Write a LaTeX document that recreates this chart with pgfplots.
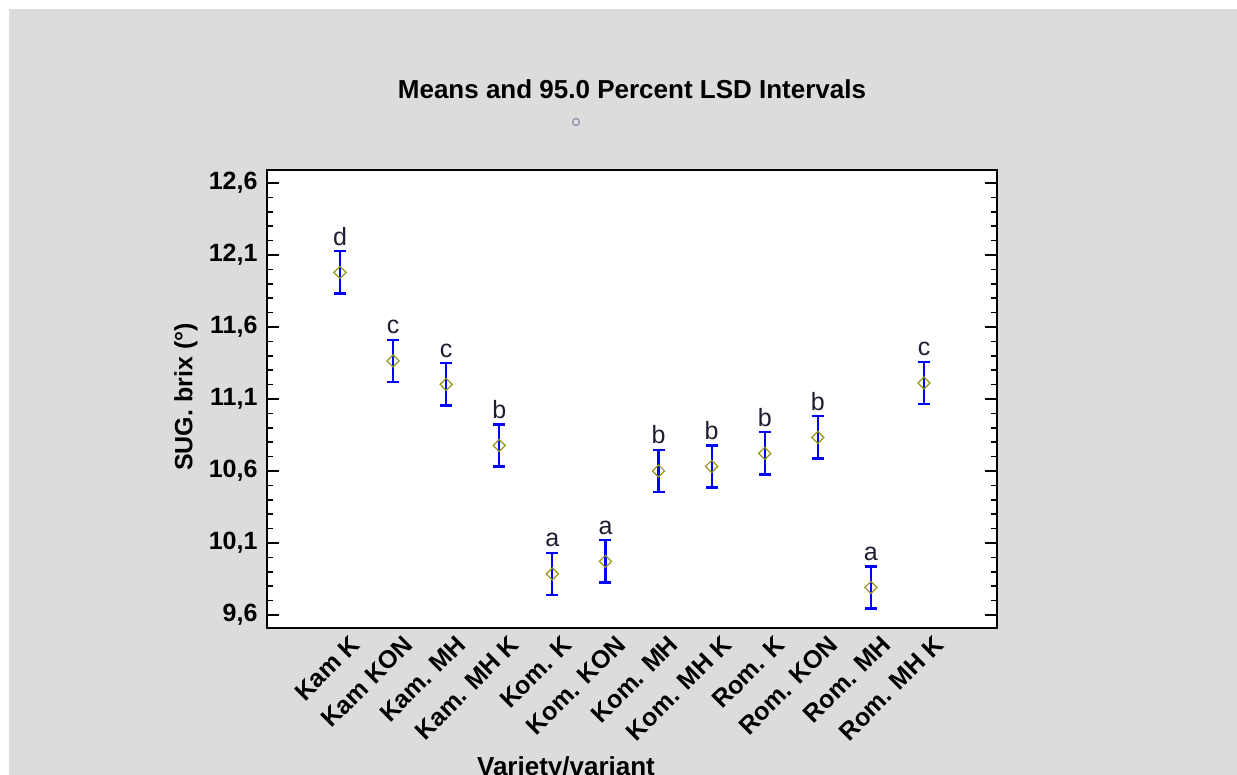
\documentclass[border=0pt]{standalone}
\usepackage{fontspec}
\setmainfont{Liberation Sans}
\usepackage{pgfplots}
\pgfplotsset{compat=1.18}
\usepackage{pgfplotstable}
\definecolor{bg}{RGB}{220,220,220}
\definecolor{barblue}{RGB}{0,0,255}
\definecolor{olivem}{RGB}{150,150,20}
\definecolor{lettercol}{RGB}{30,30,50}
\definecolor{circcol}{RGB}{140,140,170}
\pgfplotstableread{
x mean err hi let
0 11.979 0.146 12.125 d
1 11.364 0.146 11.510 c
2 11.201 0.146 11.347 c
3 10.777 0.146 10.923 b
4 9.885 0.146 10.031 a
5 9.972 0.146 10.118 a
6 10.600 0.146 10.746 b
7 10.631 0.146 10.777 b
8 10.722 0.146 10.868 b
9 10.833 0.146 10.979 b
10 9.791 0.146 9.937 a
11 11.211 0.146 11.357 c
}\data
\begin{document}
\begin{tikzpicture}[x=1pt,y=1pt]
\path[use as bounding box] (0,0) rectangle (1237,775);
\fill[bg] (9,0) rectangle (1237,766);
\node[font=\bfseries\fontsize{26}{30}\selectfont, anchor=base] at (632,676) {Means and 95.0 Percent LSD Intervals};
\draw[circcol, line width=1.2pt] (576,653) circle (3.5);
\node[rotate=90, font=\bfseries\fontsize{25}{29}\selectfont] at (186,378) {SUG. brix (°)};
\node[font=\bfseries\fontsize{26}{30}\selectfont, anchor=base] at (566,-1) {Variety/variant};
\begin{axis}[
  at={(267pt,147pt)}, anchor=south west,
  scale only axis, width=730pt, height=458pt,
  xmin=-1.375, xmax=12.375, ymin=9.5097, ymax=12.690,
  axis background/.style={fill=white},
  axis line style={line width=1.6pt, black},
  xtick={0,1,2,3,4,5,6,7,8,9,10,11},
  xticklabels={Kam K, Kam KON, Kam. MH, Kam. MH K, Kom. K, Kom. KON, Kom. MH, Kom. MH K, Rom. K, Rom. KON, Rom. MH, Rom. MH K},
  x tick style={draw=none},
  xticklabel style={xshift=9pt, yshift=-3pt, rotate=45, anchor=north east, font=\bfseries\fontsize{25}{29}\selectfont, inner sep=2pt},
  ytick={9.6,10.1,10.6,11.1,11.6,12.1,12.6},
  minor y tick num=4,
  tick align=inside, ytick pos=both,
  major tick length=12pt, minor tick length=6pt,
  y tick style={line width=1.6pt, black},
  yticklabel style={font=\bfseries\fontsize{25}{29}\selectfont, xshift=-6pt},
  /pgf/number format/assume math mode=true,
  /pgf/number format/use comma, /pgf/number format/fixed, /pgf/number format/precision=1, /pgf/number format/fixed zerofill,
]
\addplot[only marks, mark=diamond, mark size=6pt, mark options={draw=olivem, line width=1.2pt, fill=none, xscale=1.35},
  error bars/.cd, y dir=both, y explicit,
  error bar style={barblue, line width=2.2pt},
  error mark options={barblue, line width=2.2pt, mark size=6pt, rotate=90}]
  table[x=x, y=mean, y error=err] {\data};
\addplot[draw=none, mark=none, nodes near coords, point meta=explicit symbolic,
  nodes near coords style={anchor=base, yshift=6pt, inner sep=0pt, font=\fontsize{25}{29}\selectfont, text=lettercol}]
  table[x=x, y=hi, meta=let] {\data};
\end{axis}
\end{tikzpicture}
\end{document}
